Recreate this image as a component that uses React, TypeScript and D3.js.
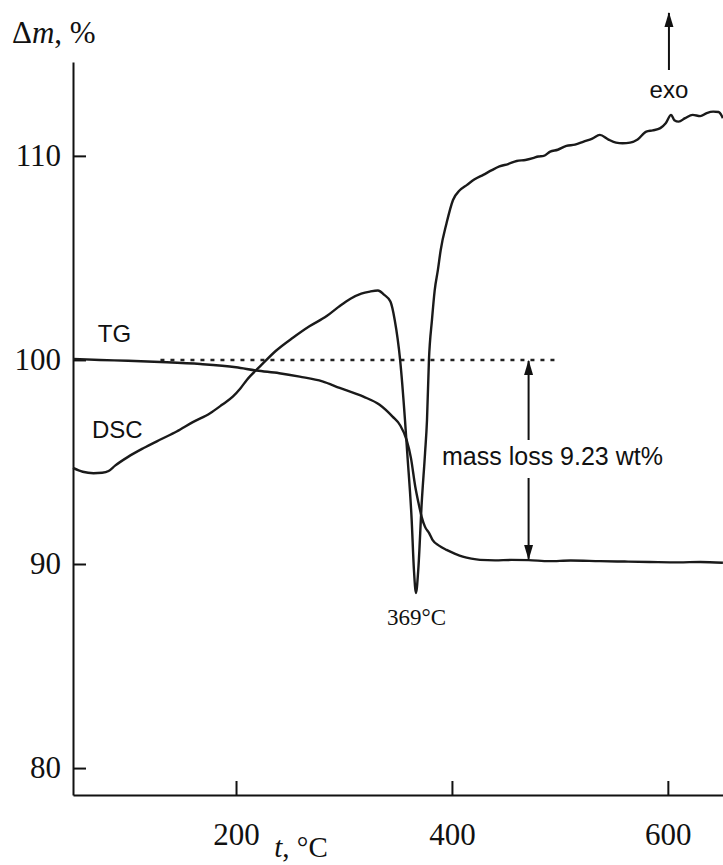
import React, { useEffect, useRef } from 'react';
import * as d3 from 'd3';

// TG curve: temperature (°C) and mass (%)
const tgTemp = [49, 74, 100, 130, 167, 200, 219, 240, 259, 280, 296, 318, 333, 345, 352, 358, 362, 366, 369, 372, 375, 379, 382, 388, 395, 403, 410, 418, 426, 440, 455, 471, 490, 510, 537, 560, 583, 610, 630, 651];
const tgMass = [100.05, 100.0, 99.96, 99.9, 99.8, 99.64, 99.48, 99.35, 99.18, 98.95, 98.63, 98.2, 97.8, 97.22, 96.8, 96.08, 95.2, 93.8, 93.0, 92.3, 91.83, 91.5, 91.18, 90.9, 90.69, 90.5, 90.36, 90.26, 90.2, 90.18, 90.2, 90.19, 90.14, 90.17, 90.14, 90.12, 90.1, 90.08, 90.1, 90.06];

// DSC curve: temperature (°C) and signal drawn on the same vertical axis
const dscTemp = [49, 58, 68, 76, 82, 88, 100, 114, 130, 145, 160, 176, 187, 197, 204, 210, 222, 237, 253, 268, 284, 295, 306, 316, 324, 331.5, 337, 343, 347, 352, 356.5, 358.6, 362.7, 364.8, 366.7, 368.8, 372, 375.1, 376.9, 378.7, 381.5, 384, 387, 389.6, 395, 401, 407, 414, 421, 429, 437, 444, 452, 460, 468, 475, 480, 485, 491, 498, 506, 514, 522, 530, 537, 545, 552, 558, 565, 572, 580, 586, 593, 598, 603, 606, 610, 616, 623, 630, 636, 642, 647, 651];
const dscSignal = [94.71, 94.52, 94.45, 94.47, 94.56, 94.82, 95.25, 95.67, 96.1, 96.49, 96.95, 97.39, 97.8, 98.2, 98.6, 99.02, 99.67, 100.45, 101.1, 101.65, 102.15, 102.6, 103.0, 103.25, 103.35, 103.4, 103.2, 102.86, 101.96, 100.0, 97.06, 95.44, 92.16, 89.71, 88.58, 89.71, 92.99, 95.44, 97.06, 100.0, 101.96, 103.4, 104.41, 105.39, 106.7, 107.84, 108.3, 108.58, 108.85, 109.07, 109.3, 109.48, 109.6, 109.75, 109.8, 109.89, 109.97, 110.0, 110.21, 110.3, 110.49, 110.55, 110.7, 110.85, 111.03, 110.8, 110.65, 110.62, 110.65, 110.8, 111.19, 111.25, 111.36, 111.6, 112.01, 111.75, 111.68, 111.85, 112.01, 111.95, 112.1, 112.17, 112.15, 111.85];

const xTicks = [200, 400, 600];
const yTicks = [80, 90, 100, 110];

const baselineStart = 130;
const baselineEnd = 495;
const baselineLevel = 100;
const finalMass = 90.2;
const massLossAt = 471;
const peakTemp = 369;
const peakMin = 88.58;

const serif = "'Liberation Serif', 'Times New Roman', serif";
const sans = "'Liberation Sans', Arial, sans-serif";

function App() {
  const ref = useRef(null);

  useEffect(() => {
    document.body.style.margin = '0';
    const el = ref.current;
    if (!el) return;
    el.innerHTML = '';
    const width = 723;
    const height = 865;
    const svg = d3.select(el).append('svg')
      .attr('width', width)
      .attr('height', height)
      .style('display', 'block')
      .style('background', '#fff');

    const x = d3.scaleLinear().domain([49, 652]).range([73, 724]);
    const y = d3.scaleLinear().domain([78.68, 114.6]).range([795, 62]);

    // arrowhead pointing along the line direction
    svg.append('defs').append('marker')
      .attr('id', 'head')
      .attr('viewBox', '0 0 15 10')
      .attr('refX', 14)
      .attr('refY', 5)
      .attr('markerWidth', 15)
      .attr('markerHeight', 10)
      .attr('markerUnits', 'userSpaceOnUse')
      .attr('orient', 'auto')
      .append('path')
      .attr('d', 'M0,0.5 L15,5 L0,9.5 Z')
      .attr('fill', '#111');

    // axes (ticks point inward)
    const yAxis = d3.axisLeft(y).tickValues(yTicks).tickSizeInner(-13).tickSizeOuter(0).tickPadding(12);
    const gy = svg.append('g').attr('transform', 'translate(73,0)').call(yAxis);
    gy.select('.domain').attr('stroke', '#111').attr('stroke-width', 2);
    gy.selectAll('.tick line').attr('stroke', '#111').attr('stroke-width', 2);
    gy.selectAll('.tick text')
      .attr('font-family', serif)
      .attr('font-size', 31)
      .attr('fill', '#111');

    const xAxis = d3.axisBottom(x).tickValues(xTicks).tickSizeInner(-14).tickSizeOuter(0);
    const gx = svg.append('g').attr('transform', 'translate(0,795)').call(xAxis);
    gx.select('.domain').attr('stroke', '#111').attr('stroke-width', 2);
    gx.selectAll('.tick line').attr('stroke', '#111').attr('stroke-width', 2);
    gx.selectAll('.tick text')
      .attr('y', 50)
      .attr('dy', 0)
      .attr('font-family', serif)
      .attr('font-size', 31)
      .attr('fill', '#111');

    // axis titles
    const yTitle = svg.append('text')
      .attr('x', 12)
      .attr('y', 43)
      .attr('font-family', serif)
      .attr('font-size', 31)
      .attr('fill', '#111');
    yTitle.append('tspan').text('Δ');
    yTitle.append('tspan').attr('font-style', 'italic').text('m');
    yTitle.append('tspan').text(', %');

    const xTitle = svg.append('text')
      .attr('x', 301)
      .attr('y', 857)
      .attr('text-anchor', 'middle')
      .attr('font-family', serif)
      .attr('font-size', 29)
      .attr('fill', '#111');
    xTitle.append('tspan').attr('font-style', 'italic').text('t');
    xTitle.append('tspan').text(', °C');

    // dotted initial-mass baseline
    svg.append('line')
      .attr('x1', x(baselineStart))
      .attr('x2', x(baselineEnd))
      .attr('y1', y(baselineLevel))
      .attr('y2', y(baselineLevel))
      .attr('stroke', '#222')
      .attr('stroke-width', 2.5)
      .attr('stroke-dasharray', '4 6');

    const line = d3.line()
      .x((d) => x(d[0]))
      .y((d) => y(d[1]))
      .curve(d3.curveMonotoneX);

    svg.append('path')
      .datum(tgTemp.map((t, i) => [t, tgMass[i]]))
      .attr('fill', 'none')
      .attr('stroke', '#1a1a1a')
      .attr('stroke-width', 2.4)
      .attr('d', line);

    svg.append('path')
      .datum(dscTemp.map((t, i) => [t, dscSignal[i]]))
      .attr('fill', 'none')
      .attr('stroke', '#1a1a1a')
      .attr('stroke-width', 2.4)
      .attr('stroke-linejoin', 'round')
      .attr('d', line);

    // curve labels
    svg.append('text')
      .attr('x', x(72))
      .attr('y', y(100.88))
      .attr('font-family', sans)
      .attr('font-size', 24)
      .attr('fill', '#111')
      .text('TG');
    svg.append('text')
      .attr('x', x(66.6))
      .attr('y', y(96.18))
      .attr('font-family', sans)
      .attr('font-size', 24)
      .attr('fill', '#111')
      .text('DSC');

    // mass loss double arrow
    const ax = x(massLossAt);
    const labelY = 465;
    svg.append('line')
      .attr('x1', ax).attr('x2', ax)
      .attr('y1', labelY - 25).attr('y2', y(baselineLevel) + 1)
      .attr('stroke', '#111').attr('stroke-width', 2)
      .attr('marker-end', 'url(#head)');
    svg.append('line')
      .attr('x1', ax).attr('x2', ax)
      .attr('y1', labelY + 13).attr('y2', y(finalMass) - 1)
      .attr('stroke', '#111').attr('stroke-width', 2)
      .attr('marker-end', 'url(#head)');
    svg.append('text')
      .attr('x', 442)
      .attr('y', labelY)
      .attr('font-family', sans)
      .attr('font-size', 25)
      .attr('fill', '#111')
      .text('mass loss 9.23 wt%');

    // peak label
    svg.append('text')
      .attr('x', x(peakTemp) - 2)
      .attr('y', y(peakMin) + 32)
      .attr('text-anchor', 'middle')
      .attr('font-family', serif)
      .attr('font-size', 23)
      .attr('fill', '#111')
      .text('369°C');

    // exo arrow
    const ex = x(601);
    svg.append('line')
      .attr('x1', ex).attr('x2', ex)
      .attr('y1', 70).attr('y2', 13)
      .attr('stroke', '#111').attr('stroke-width', 2)
      .attr('marker-end', 'url(#head)');
    svg.append('text')
      .attr('x', ex)
      .attr('y', 98)
      .attr('text-anchor', 'middle')
      .attr('font-family', sans)
      .attr('font-size', 24)
      .attr('fill', '#111')
      .text('exo');
  }, []);

  return <div ref={ref} />;
}

export default App;
